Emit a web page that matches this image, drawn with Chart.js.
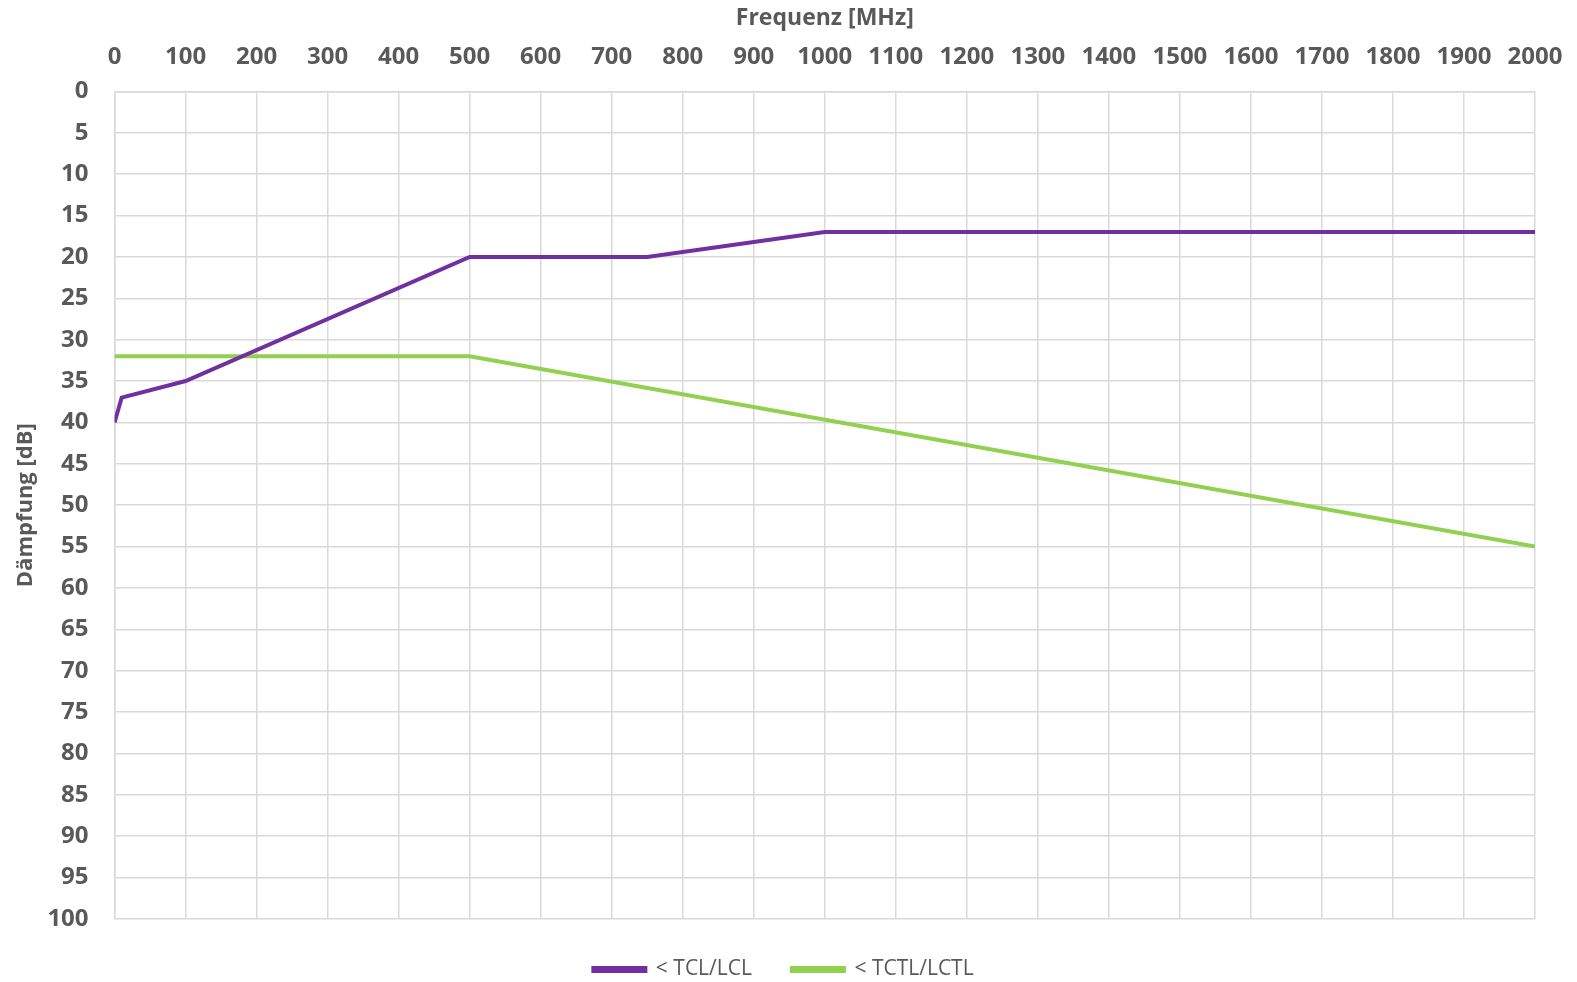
<!DOCTYPE html>
<html>
<head>
<meta charset="utf-8">
<script src="https://cdn.jsdelivr.net/npm/chart.js@4"></script>
<style>
  html, body { margin: 0; padding: 0; background: #fff; }
  #wrap { width: 1577px; height: 982px; }
</style>
</head>
<body>
<div id="wrap"><canvas id="chart"></canvas></div>
<script>
const tclFreq = [0, 10, 100, 500, 750, 1000, 2000];
const tclDb = [40, 37, 35, 20, 20, 17, 17];
const tctlFreq = [0, 500, 2000];
const tctlDb = [32, 32, 55];
const seriesNames = ["< TCL/LCL", "< TCTL/LCTL"];

const toPoints = (xs, ys) => xs.map((x, i) => ({ x, y: ys[i] }));
const textColor = "#595959";
const gridColor = "#d9d9d9";
const font = "'Open Sans', 'Liberation Sans', sans-serif";

new Chart(document.getElementById("chart"), {
    type: "line",
    data: {
        datasets: [
            {
                label: seriesNames[0],
                data: toPoints(tclFreq, tclDb),
                borderColor: "#7030a0",
                backgroundColor: "#7030a0",
                borderWidth: 4,
                pointRadius: 0,
            },
            {
                label: seriesNames[1],
                data: toPoints(tctlFreq, tctlDb),
                borderColor: "#92d050",
                backgroundColor: "#92d050",
                borderWidth: 4,
                pointRadius: 0,
            },
        ],
    },
    options: {
        responsive: true,
        maintainAspectRatio: false,
        animation: false,
        layout: { padding: { left: 3, right: 13, top: 5, bottom: -8 } },
        plugins: {
            legend: {
                position: "bottom",
                labels: {
                    boxWidth: 52,
                    boxHeight: 3,
                    padding: 40,
                    color: textColor,
                    font: { family: font, size: 21 },
                },
            },
            tooltip: { enabled: false },
        },
        scales: {
            x: {
                type: "linear",
                position: "top",
                min: 0,
                max: 2000,
                afterFit: (scale) => { scale.paddingRight = 42; },
                ticks: {
                    stepSize: 100,
                    color: textColor,
                    font: { family: font, size: 24, weight: "bold" },
                    maxRotation: 0,
                    padding: 20,
                    callback: (v) => String(v),
                },
                grid: { color: gridColor, lineWidth: 1.5, drawTicks: false },
                border: { color: gridColor, width: 1.5 },
                title: {
                    display: true,
                    text: "Frequenz [MHz]",
                    color: textColor,
                    font: { family: font, size: 23, weight: "bold" },
                    padding: { top: 0, bottom: -10 },
                },
            },
            y: {
                reverse: true,
                min: 0,
                max: 100,
                ticks: {
                    stepSize: 5,
                    color: textColor,
                    font: { family: font, size: 24, weight: "bold" },
                    padding: 26,
                },
                grid: { color: gridColor, lineWidth: 1.5, drawTicks: false },
                border: { color: gridColor, width: 1.5 },
                title: {
                    display: true,
                    text: "Dämpfung [dB]",
                    color: textColor,
                    font: { family: font, size: 22, weight: "bold" },
                    padding: { top: 10, bottom: -18 },
                },
            },
        },
    },
});
</script>
</body>
</html>
